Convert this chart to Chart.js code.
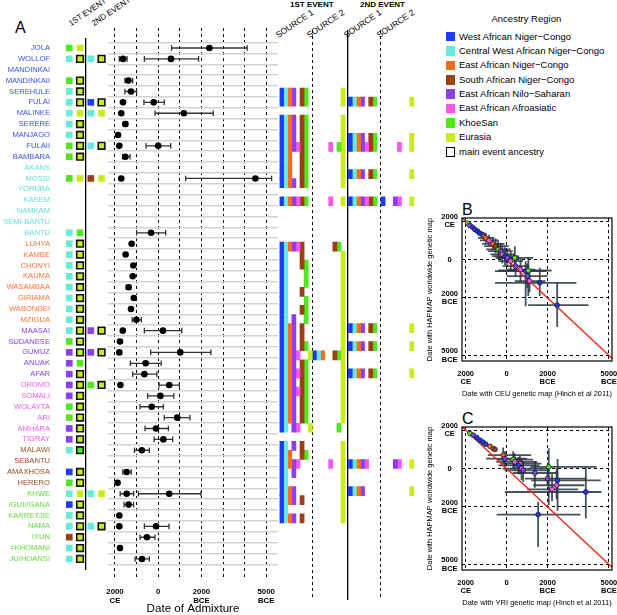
<!DOCTYPE html>
<html lang="en">
<head>
<meta charset="UTF-8">
<title>Admixture dates</title>
<script src="https://cdn.jsdelivr.net/npm/chart.js"></script>
<style>
  body { margin: 0; width: 617px; height: 615px; position: relative; overflow: hidden; background: #fff;
         font-family: "Liberation Sans", Arial, sans-serif; color: #000; }
  canvas { position: absolute; }
  .txt { position: absolute; white-space: nowrap; line-height: 1; }
  .rot { transform-origin: left bottom; transform: rotate(-34deg); font-size: 8px; }
  .big { font-size: 16px; }
  .head { font-size: 8px; font-weight: bold; }
  #legend { position: absolute; left: 445px; top: 29.5px; font-size: 9.5px; }
  #legend div { height: 14.4px; line-height: 14.4px; position: relative; padding-left: 14px; }
  #legend span { position: absolute; left: 0.5px; top: 2.4px; width: 9.5px; height: 9.5px; box-sizing: border-box; }
</style>
</head>
<body>
<div class="txt big" style="left:15px;top:19.5px">A</div>
<div class="txt rot" style="left:72px;top:20px">1ST EVENT</div>
<div class="txt rot" style="left:95px;top:20px">2ND EVENT</div>
<div class="txt head" style="left:290px;top:1px">1ST EVENT</div>
<div class="txt head" style="left:360px;top:1px">2ND EVENT</div>
<div class="txt rot" style="left:279px;top:31px;font-size:8.5px">SOURCE 1</div>
<div class="txt rot" style="left:310px;top:31px;font-size:8.5px">SOURCE 2</div>
<div class="txt rot" style="left:347px;top:31px;font-size:8.5px">SOURCE 1</div>
<div class="txt rot" style="left:380px;top:31px;font-size:8.5px">SOURCE 2</div>
<div class="txt" style="left:491.5px;top:13.5px;font-size:9.5px">Ancestry Region</div>
<div id="legend"></div>
<div class="txt big" style="left:462px;top:202px">B</div>
<div class="txt big" style="left:462px;top:411px">C</div>

<canvas id="popChart" width="108" height="615" style="left:0;top:0"></canvas>
<canvas id="dateChart" width="182" height="615" style="left:100px;top:0"></canvas>
<canvas id="sourceChart" width="150" height="615" style="left:270px;top:0"></canvas>
<canvas id="ceuChart" width="202" height="202" style="left:415px;top:198px"></canvas>
<canvas id="yriChart" width="202" height="202" style="left:415px;top:413px"></canvas>

<script>
// ---------- data ----------
const populations = ['JOLA', 'WOLLOF', 'MANDINKAI', 'MANDINKAII', 'SEREHULE', 'FULAI', 'MALINKE', 'SERERE',
  'MANJAGO', 'FULAII', 'BAMBARA', 'AKANS', 'MOSSI', 'YORUBA', 'KASEM', 'NAMKAM', 'SEMI-BANTU', 'BANTU',
  'LUHYA', 'KAMBE', 'CHONYI', 'KAUMA', 'WASAMBAA', 'GIRIAMA', 'WABONDEI', 'MZIGUA', 'MAASAI', 'SUDANESE',
  'GUMUZ', 'ANUAK', 'AFAR', 'OROMO', 'SOMALI', 'WOLAYTA', 'ARI', 'AMHARA', 'TIGRAY', 'MALAWI', 'SEBANTU',
  'AMAXHOSA', 'HERERO', 'KHWE', '/GUI//GANA', 'KARRETJIE', 'NAMA', '!XUN', '=KHOMANI', 'JU/HOANSI'];
// region of each population (B west NC, C central west NC, O east NC, R south NC, P nilo-saharan, K afroasiatic, G khoesan)
const rowRegion = 'BBBBBBBBBBBCCCCCCCOOOOOOOOPPPPPKKKKKKRRRRGGGGGGG';

// event boxes: source 1, source 2, '*' = source 2 is the main event ancestry
const event1 = ['GY', 'CY*', '', 'GY*', 'CY*', 'CY*', 'CY', 'CY*', 'CY*', 'GY*', 'GY*', '',
  'GY', '', '', '', '', 'CG', 'CY*', 'CY*', 'CY*', 'CY*', 'CY*', 'CY*',
  'CY*', 'CY*', 'CY*', 'GY*', 'PY*', 'PG', 'PY*', 'PY*', 'PY*', 'GY*', 'GY*', 'PY*',
  'PY*', 'CG*', '', 'BY*', 'GY*', 'CY', 'BY*', 'CY*', 'CY*', 'RY*', 'CY*', 'CY*'];
const event2 = ['', 'CY*', '', '', '', 'BY*', 'CY', '', '', 'CY*', '', '',
  'RY', '', '', '', '', '', '', '', '', '', '', '',
  '', '', 'PY*', '', 'PY*', '', '', 'GY*', '', '', '', '',
  '', '', '', '', '', 'CY', '', '', 'CY*', '', '', ''];

// dates of admixture, years before 2000 CE
const date1 = [4370, 370, null, 620, 740, 370, 290, 480, 140, 200, 480, null,
  290, null, null, null, null, 1670, 770, 490, 850, 820, 630, 870,
  740, 990, 360, 230, 200, 1420, 1360, 250, 2100, 1700, 2880, 1900,
  2240, 1240, null, 540, 120, 540, 630, 200, 200, 1480, 230, 1250];
const date1Lo = [2620, 200, null, 460, 460, null, null, 380, null, null, 350, null,
  null, null, null, null, null, 1000, null, null, null, null, 530, null,
  null, 800, null, null, null, 710, 820, null, 1510, 1160, 2280, 1390,
  1810, 900, null, 360, null, 240, 420, null, null, 1160, null, 930];
const date1Hi = [6120, 560, null, 820, 1000, null, null, 580, null, null, 700, null,
  null, null, null, null, null, 2350, null, null, null, null, 730, null,
  null, 1220, null, null, null, 2140, 1940, null, 2720, 2240, 3470, 2470,
  2670, 1590, null, 750, null, 860, 860, null, null, 1850, null, 1590];
const date2 = [null, 2590, null, null, null, 1790, 3190, null, null, 2000, null, null,
  6500, null, null, null, null, null, null, null, null, null, null, null,
  null, null, 2220, null, 3020, null, null, 2510, null, null, null, null,
  null, null, null, null, null, 2510, null, null, 1900, null, null, null];
const date2Lo = [null, 1360, null, null, null, 1340, 1850, null, null, 1440, null, null,
  3270, null, null, null, null, null, null, null, null, null, null, null,
  null, null, 1360, null, 1650, null, null, 2040, null, null, null, null,
  null, null, null, null, null, 1080, null, null, 1360, null, null, null];
const date2Hi = [null, 3870, null, null, null, 2280, 4550, null, null, 2580, null, null,
  7250, null, null, null, null, null, null, null, null, null, null, null,
  null, null, 3090, null, 4440, null, null, 2980, null, null, null, null,
  null, null, null, null, null, 3980, null, null, 2500, null, null, null];
const dateTicks = [0, 2000, 4000, 7000];

// ancestry present in each source (colour codes)
const e1Source1 = ['BCOPRG', 'BCOPRG', '', 'BCOPRG', 'BCOPRG', 'BCOPRG', 'BCOPKRG', 'BCORG', 'BCORG', 'BCORG', 'BCOPRG', '',
  'BCOPKRG', '', '', '', '', 'BCOPKR', 'BCR', 'BCRG', 'BCG', 'BCG', 'BCR', 'BCG',
  'BCRG', 'BCPG', 'BCOPR', 'BCOPR', 'BCOPRG', 'BCOPKY', 'BCOPRG', 'BCOPKRG', 'BCOPRG', 'BCOPKRG', 'BCOPRG', 'BCOPRG',
  'BCOPRG', 'BCPKY', '', 'BCPR', 'BCORG', 'BCOPK', 'BCP', 'BC', 'BCOP', 'BCOPR', 'BC', 'BCOPR'];
const e1Source2 = ['Y', 'Y', '', 'Y', 'Y', 'Y', 'KGY', 'Y', 'Y', 'Y', 'Y', '',
  'KY', '', '', '', '', 'RG', 'Y', 'Y', 'Y', 'Y', 'Y', 'Y',
  'Y', 'Y', 'Y', 'Y', 'Y', 'BCORGY', 'Y', 'Y', 'Y', 'Y', 'Y', 'Y',
  'Y', 'G', '', 'Y', 'Y', 'KY', 'Y', 'Y', 'Y', 'Y', 'Y', 'Y'];
const e2Source1 = ['', 'BCOPRG', '', '', '', 'BCOPRG', 'BCOPKRG', '', '', 'BCOPRG', '', '',
  'BCOPKRG', '', '', '', '', '', '', '', '', '', '', '',
  '', '', 'BCOPRG', '', 'BCOPRG', '', '', 'BCOPRG', '', '', '', '',
  '', '', '', '', '', 'BCOPK', '', '', 'BCOP', '', '', ''];
const e2Source2 = ['', 'Y', '', '', '', 'Y', 'KY', '', '', 'Y', '', '',
  'BPKY', '', '', '', '', '', '', '', '', '', '', '',
  '', '', 'Y', '', 'Y', '', '', 'Y', '', '', '', '',
  '', '', '', '', '', 'PKY', '', '', 'Y', '', '', ''];

// panel B: CEU map date (x) vs HAPMAP map date (y), years before 2000 CE
const ceuX = [100, 200, 330, 450, 580, 680, 810, 900, 980, 1140, 1330, 1460, 1590, 1710,
  1790, 1920, 2030, 2200, 2400, 2440, 2680, 2930, 3060, 3010, 3120, 3620, 4470];
const ceuY = [100, 220, 310, 430, 520, 620, 690, 800, 870, 1000, 1180, 1300, 1470, 1560,
  1730, 1820, 1910, 2080, 1910, 2340, 2520, 2600, 2570, 2860, 3120, 3210, 4380];
const ceuRegion = 'GPBBBBBOOKORGPKBPKGPKBGPKBB';
const ceuXLo = [null, null, null, null, null, null, null, null, 600, 700, 800, 900, 1000, 1100,
  1200, 1300, 1450, 1600, 1600, 1800, 2000, 1430, 1600, 2000, 2400, 1430, 3050];
const ceuXHi = [null, null, null, null, null, null, null, null, 1400, 1600, 1900, 2100, 2200, 2300,
  2400, 2600, 2650, 2800, 3300, 3100, 3400, 3950, 4200, 4000, 3900, 5410, 6000];
const ceuYLo = [null, null, null, null, null, null, null, null, 600, 700, 850, 900, 1000, 1150,
  1300, 1350, 1450, 1600, 1300, 1800, 1900, 2080, 1900, 2200, 2600, 2430, 3240];
const ceuYHi = [null, null, null, null, null, null, null, null, 1150, 1300, 1500, 1700, 1950, 2000,
  2200, 2300, 2400, 2600, 2600, 2900, 3150, 4430, 3900, 3500, 3700, 3900, 5520];

// panel C: YRI map date (x) vs HAPMAP map date (y)
const yriX = [210, 370, 540, 700, 850, 980, 1190, 1350, 1430, 1830, 1920, 2320, 2400,
  2650, 2570, 2730, 2810, 3380, 4060, 4000, 4490, 4440, 4220, 5870, 3540];
const yriY = [170, 260, 380, 520, 620, 730, 840, 960, 1000, 1300, 1480, 1530, 1650,
  1740, 1830, 2000, 2090, 2230, 1910, 2520, 2610, 2870, 3080, 3220, 4400];
const yriRegion = 'GPBBBBOOROPGKKBKPPGPBKKBB';
const yriXLo = [null, null, null, null, null, null, null, null, null, 1080, 1000, 1500, 1500,
  1700, 1600, 1800, 1900, 2300, 3160, 2900, 3200, 3300, 3000, 1920, 1510];
const yriXHi = [null, null, null, null, null, null, null, null, null, 3200, 3000, 3300, 3500,
  3700, 3600, 4000, 4100, 4500, 6400, 5900, 6600, 5800, 5500, 6630, 5610];
const yriYLo = [null, null, null, null, null, null, null, null, null, 900, 1100, 1100, 1200,
  1300, 1400, 1500, 1600, 1600, 940, 2200, 1500, 2000, 2300, 1910, 3740];
const yriYHi = [null, null, null, null, null, null, null, null, null, 1700, 1900, 2000, 2100,
  2300, 2300, 2600, 2700, 3000, 3900, 2850, 4200, 3600, 3700, 4600, 6090];

// ---------- styling ----------
const palette = { B: '#1c3cf4', C: '#62eed8', O: '#ff6a1c', R: '#9c3f14', P: '#8a3ff0', K: '#ff55ec', G: '#4ee81f', Y: '#c8ec16' };
const labelInk = { B: '#3452e8', C: '#5fe3d3', O: '#ff7433', P: '#8745e6', K: '#f45ae6', R: '#a2491f', G: '#62e03a' };
const legendItems = [['B', 'West African Niger\u2212Congo'], ['C', 'Central West African Niger\u2212Congo'],
  ['O', 'East African Niger\u2212Congo'], ['R', 'South African Niger\u2212Congo'], ['P', 'East African Nilo\u2212Saharan'],
  ['K', 'East African Afroasiatic'], ['G', 'KhoeSan'], ['Y', 'Eurasia']];

Chart.defaults.font.family = '"Liberation Sans", Arial, sans-serif';
Chart.defaults.color = '#000';

function dateLabel(v) {
  const cal = 2000 - v;
  if (cal === 0) return '0';
  return cal > 0 ? [String(cal), 'CE'] : [String(-cal), 'BCE'];
}

// draws error bars from dataset.errX / dataset.errY using the chart scales
const errorBars = {
  id: 'errorBars',
  beforeDatasetsDraw(chart) {
    const { ctx, chartArea: a, scales: { x, y } } = chart;
    ctx.save();
    ctx.beginPath();
    ctx.rect(a.left, a.top, a.right - a.left, a.bottom - a.top);
    ctx.clip();
    chart.data.datasets.forEach(ds => {
      if (!ds.errX && !ds.errY) return;
      ctx.strokeStyle = ds.errColor;
      ctx.lineWidth = ds.errWidth;
      const cap = ds.errCap || 0;
      ds.data.forEach((p, i) => {
        const px = x.getPixelForValue(p.x), py = y.getPixelForValue(p.y);
        const ex = ds.errX && ds.errX[i], ey = ds.errY && ds.errY[i];
        ctx.beginPath();
        if (ex) {
          const x0 = x.getPixelForValue(ex[0]), x1 = x.getPixelForValue(ex[1]);
          ctx.moveTo(x0, py); ctx.lineTo(x1, py);
          if (cap) {
            ctx.moveTo(x0, py - cap); ctx.lineTo(x0, py + cap);
            ctx.moveTo(x1, py - cap); ctx.lineTo(x1, py + cap);
          }
        }
        if (ey) {
          const y0 = y.getPixelForValue(ey[0]), y1 = y.getPixelForValue(ey[1]);
          ctx.moveTo(px, y0); ctx.lineTo(px, y1);
        }
        ctx.stroke();
      });
    });
    ctx.restore();
  }
};

const frame = {
  id: 'frame',
  afterDraw(chart) {
    const { ctx, chartArea: a } = chart;
    ctx.save();
    ctx.strokeStyle = '#000';
    ctx.lineWidth = 1.2;
    ctx.strokeRect(a.left, a.top, a.right - a.left, a.bottom - a.top);
    ctx.restore();
  }
};

// legend
const legend = document.getElementById('legend');
legendItems.forEach(([code, text]) => {
  legend.insertAdjacentHTML('beforeend', `<div><span style="background:${palette[code]}"></span>${text}</div>`);
});
legend.insertAdjacentHTML('beforeend', '<div><span style="background:#fff;border:1.6px solid #000"></span>main event ancestry</div>');

const rowCentres = populations.map((p, i) => ({ value: i + 0.5 }));
const noPlugins = { legend: { display: false }, tooltip: { enabled: false } };

// ---------- population labels + event boxes ----------
const squares = [];
[event1, event2].forEach((ev, e) => ev.forEach((s, i) => {
  if (!s) return;
  squares.push({ x: 2 * e, y: i + 0.5, c: s[0], main: false });
  squares.push({ x: 2 * e + 1, y: i + 0.5, c: s[1], main: s[2] === '*' });
}));

new Chart(document.getElementById('popChart'), {
  type: 'scatter',
  data: { datasets: [{
    data: squares,
    pointStyle: 'rect',
    pointRadius: 4.7,
    backgroundColor: c => c.raw ? palette[c.raw.c] : '#000',
    borderColor: c => c.raw && c.raw.main ? '#111' : (c.raw ? palette[c.raw.c] : '#000'),
    borderWidth: c => c.raw && c.raw.main ? 1.6 : 0
  }] },
  options: {
    responsive: false, animation: false,
    layout: { autoPadding: false, padding: { top: 38, bottom: 45, left: 0, right: 0 } },
    plugins: noPlugins,
    scales: {
      x: {
        min: -1.05, max: 3.6,
        afterBuildTicks: a => { a.ticks = [{ value: 1.5 }]; },
        afterFit: a => { a.height = 0; a.paddingLeft = 0; a.paddingRight = 0; },
        ticks: { display: false },
        grid: { color: '#000', lineWidth: 1.3, drawTicks: false },
        border: { display: false }
      },
      y: {
        reverse: true, min: -0.42, max: 48.52,
        afterBuildTicks: a => { a.ticks = rowCentres.map(t => ({ ...t })); },
        afterFit: a => { a.width = 58; },
        ticks: {
          autoSkip: false, padding: 8,
          font: { size: 7.6 },
          color: c => labelInk[rowRegion[c.index]],
          callback: (v, i) => populations[i]
        },
        grid: { display: false, drawTicks: false },
        border: { display: false }
      }
    }
  }
});

// ---------- dates of admixture ----------
const datePoints = [], dateErrors = [];
[[date1, date1Lo, date1Hi], [date2, date2Lo, date2Hi]].forEach(([v, lo, hi]) => {
  v.forEach((d, i) => {
    if (d == null) return;
    datePoints.push({ x: d, y: i + 0.5 });
    dateErrors.push(lo[i] == null ? null : [lo[i], hi[i]]);
  });
});

new Chart(document.getElementById('dateChart'), {
  type: 'scatter',
  data: { datasets: [{
    data: datePoints,
    errX: dateErrors, errColor: '#333', errWidth: 1.3, errCap: 2.8,
    pointRadius: 3.3, backgroundColor: '#000', borderColor: '#000', borderWidth: 0
  }] },
  options: {
    responsive: false, animation: false,
    layout: { autoPadding: false, padding: { top: 28, left: 8, right: 4 } },
    plugins: noPlugins,
    scales: {
      x: {
        min: -324, max: 7546,
        afterBuildTicks: a => { a.ticks = [0, 1000, 2000, 3000, 4000, 5000, 6000, 7000].map(v => ({ value: v })); },
        afterFit: a => { a.height = 37; a.paddingLeft = 0; a.paddingRight = 0; },
        ticks: {
          autoSkip: false, maxRotation: 0, padding: 9,
          font: { size: 7.8, weight: 'bold' },
          callback: v => dateTicks.includes(v) ? dateLabel(v) : ''
        },
        grid: { color: '#000', lineWidth: 1, drawTicks: false },
        border: { display: false, dash: [3, 3] },
        title: { display: true, text: 'Date of Admixture', font: { size: 11.6, lineHeight: 1 }, padding: 0 }
      },
      y: {
        reverse: true, min: -1.34, max: 49.25,
        afterBuildTicks: a => { a.ticks = populations.concat(['']).map((p, i) => ({ value: i })); },
        afterFit: a => { a.width = 0; },
        ticks: { display: false },
        grid: { color: '#d3d3d3', lineWidth: 1.6, drawTicks: false },
        border: { display: false }
      }
    }
  },
  plugins: [errorBars]
});

// ---------- source ancestry cells ----------
const colourOrder = ['B', 'C', 'O', 'P', 'K', 'R', 'G', 'Y'];
const blockStart = [0, 8, 16.75, 24.75];
const cellSets = [];
[e1Source1, e1Source2, e2Source1, e2Source2].forEach((block, b) => {
  colourOrder.forEach((code, k) => {
    const data = [];
    block.forEach((s, i) => {
      if (s.includes(code)) data.push({ x: [blockStart[b] + k, blockStart[b] + k + 1], y: i + 0.5 });
    });
    if (data.length) {
      cellSets.push({ data, backgroundColor: palette[code], borderWidth: 0, grouped: false,
        barPercentage: 1, categoryPercentage: 1 });
    }
  });
});

new Chart(document.getElementById('sourceChart'), {
  type: 'bar',
  data: { datasets: cellSets },
  options: {
    indexAxis: 'y',
    responsive: false, animation: false,
    layout: { autoPadding: false, padding: { top: 30, bottom: 15, left: 9.5, right: 2 } },
    plugins: noPlugins,
    scales: {
      y: { type: 'linear', reverse: true, min: -1.16, max: 51.27, display: false },
      x: {
        type: 'linear', min: 0, max: 33.78,
        afterBuildTicks: a => { a.ticks = [{ value: 8 }, { value: 24.75 }]; },
        afterFit: a => { a.height = 0; },
        ticks: { display: false },
        grid: { color: '#000', lineWidth: 1, drawTicks: false },
        border: { display: false, dash: [3, 3] }
      },
      x2: {
        type: 'linear', position: 'bottom', min: 0, max: 33.78,
        afterBuildTicks: a => { a.ticks = [{ value: 16.6 }]; },
        afterFit: a => { a.height = 0; },
        ticks: { display: false },
        grid: { color: '#000', lineWidth: 1.3, drawTicks: false },
        border: { display: false }
      }
    }
  }
});

// ---------- panels B and C ----------
function compareChart(id, xs, ys, region, xLo, xHi, yLo, yHi, xTitle, padTop, axisHeight, titleBottom) {
  const pts = xs.map((v, i) => ({ x: v, y: ys[i] }));
  const span = [-200, 7400];
  new Chart(document.getElementById(id), {
    type: 'scatter',
    data: { datasets: [
      {
        data: pts, order: 1,
        errX: xs.map((v, i) => xLo[i] == null ? null : [xLo[i], xHi[i]]),
        errY: ys.map((v, i) => yLo[i] == null ? null : [yLo[i], yHi[i]]),
        errColor: 'rgba(38,52,66,0.85)', errWidth: 1.8,
        pointRadius: 2.4, borderWidth: 0.8, borderColor: '#1a1a2a',
        backgroundColor: region.split('').map(r => palette[r])
      },
      {
        type: 'line', order: 2, data: span.map(v => ({ x: v, y: v })),
        borderColor: '#f02a1e', borderWidth: 1.4, pointRadius: 0
      }
    ] },
    options: {
      responsive: false, animation: false,
      layout: { autoPadding: false, padding: { top: padTop, right: 5 } },
      plugins: noPlugins,
      scales: {
        x: {
          min: -180, max: 7150,
          afterBuildTicks: a => { a.ticks = dateTicks.map(v => ({ value: v })); },
          afterFit: a => { a.height = axisHeight; a.paddingLeft = 0; a.paddingRight = 0; },
          ticks: { maxRotation: 0, padding: 9, font: { size: 7.5, weight: 'bold', lineHeight: 1.1 }, callback: dateLabel },
          grid: { color: '#000', lineWidth: 1, drawTicks: false },
          border: { display: false, dash: [3, 3] },
          title: { display: true, text: xTitle, font: { size: 7.5 }, padding: { top: 0, bottom: titleBottom } }
        },
        y: {
          reverse: true, min: -170, max: 7290,
          afterBuildTicks: a => { a.ticks = dateTicks.map(v => ({ value: v })); },
          afterFit: a => { a.width = 47; },
          ticks: { padding: 4, crossAlign: 'center', font: { size: 7.5, weight: 'bold', lineHeight: 1.1 }, callback: dateLabel },
          grid: { color: '#000', lineWidth: 1, drawTicks: false },
          border: { display: false, dash: [3, 3] },
          title: { display: true, text: 'Date with HAPMAP worldwide genetic map', font: { size: 7.5 }, padding: { top: 10, bottom: 10 } }
        }
      }
    },
    plugins: [errorBars, frame]
  });
}

compareChart('ceuChart', ceuX, ceuY, ceuRegion, ceuXLo, ceuXHi, ceuYLo, ceuYHi,
  'Date with CEU genetic map (Hinch et al 2011)', 20, 39, 1.5);
compareChart('yriChart', yriX, yriY, yriRegion, yriXLo, yriXHi, yriYLo, yriYHi,
  'Date with YRI genetic map (Hinch et al 2011)', 14, 45, 7.2);
</script>
</body>
</html>
